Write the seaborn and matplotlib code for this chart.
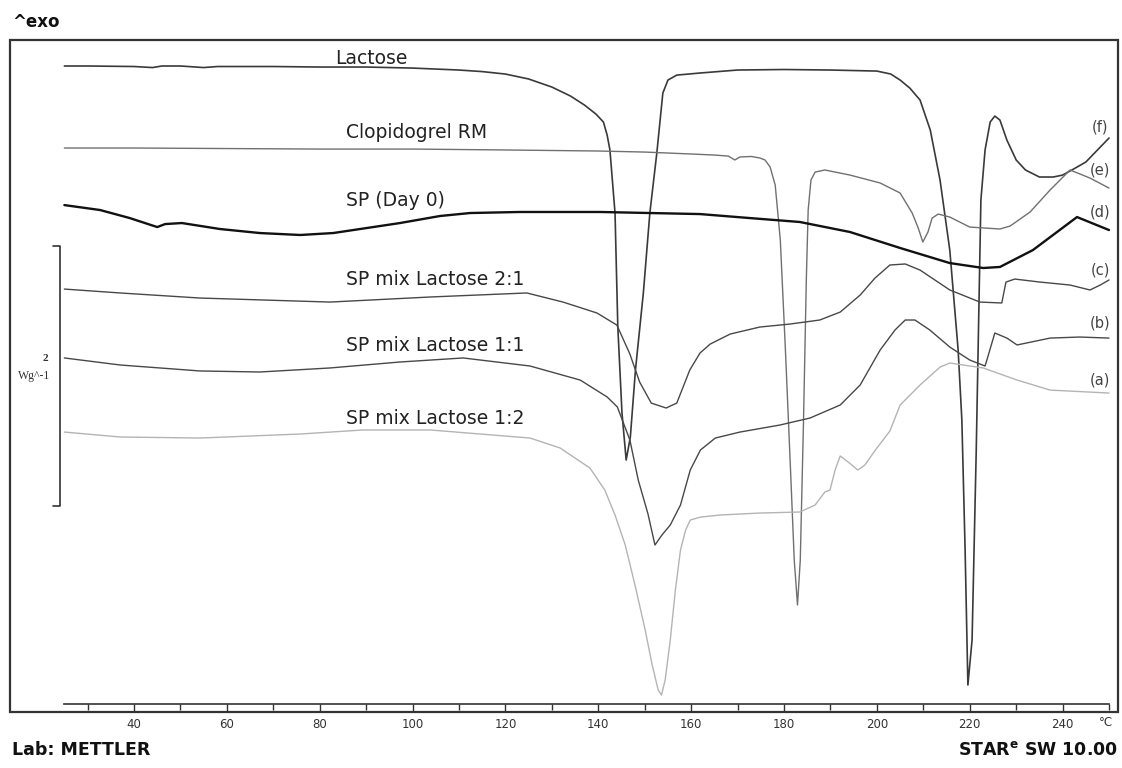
import matplotlib
matplotlib.use("Agg")
import matplotlib.pyplot as plt
import matplotlib.patches as mpatches
from matplotlib.ticker import FixedLocator
import numpy as np
import pandas as pd
import seaborn as sns

# --- DSC traces: temperature (°C) and stacked heat flow (W/g, exo up) ---
lactose_T = [25, 30, 40, 44, 46, 50, 55, 58, 70, 80, 90, 100, 110, 115, 120, 125, 130, 134,
             137, 139.5, 141.1, 141.9, 142.5, 143.6, 144.2, 145.1, 146, 146.9, 148, 149.7,
             151.1, 152.6, 153.9, 155, 156.9, 161.9, 170, 180, 190, 200, 203, 205, 207.1,
             209.3, 211.5, 213.6, 215.7, 217.5, 218.3, 219, 219.6, 220.5, 221.4, 222, 222.4,
             223.3, 224.4, 225.4, 226.5, 228, 230, 232, 235, 238, 240, 242, 245, 250]
lactose_hf = [4.908, 4.908, 4.904, 4.896, 4.908, 4.908, 4.896, 4.904, 4.904, 4.900, 4.900,
              4.892, 4.877, 4.865, 4.846, 4.808, 4.746, 4.677, 4.608, 4.538, 4.477, 4.377,
              4.262, 3.777, 2.900, 2.238, 1.877, 2.054, 2.569, 3.162, 3.777, 4.238, 4.700,
              4.800, 4.838, 4.854, 4.877, 4.881, 4.877, 4.869, 4.846, 4.800, 4.738, 4.646,
              4.415, 4.031, 3.492, 2.723, 2.185, 1.185, 0.146, 0.492, 1.954, 3.108, 3.877,
              4.262, 4.477, 4.523, 4.492, 4.338, 4.185, 4.108, 4.054, 4.054, 4.069, 4.108,
              4.169, 4.354]

clopi_T = [25, 40, 60, 80, 100, 120, 140, 150, 160, 165, 168, 169.4, 170.5, 173, 174.8, 175.9,
           177, 178.1, 179.2, 180.3, 181.4, 182.2, 182.9, 183.5, 184.2, 184.8, 185.2, 185.8,
           186.7, 188.8, 194.2, 200.7, 205, 207.6, 208.9, 209.9, 211, 211.9, 213.2, 215.7,
           220, 226.5, 228.7, 233, 237.3, 241.6, 245.9, 250]
clopi_hf = [4.277, 4.277, 4.273, 4.269, 4.269, 4.262, 4.254, 4.246, 4.231, 4.223, 4.215, 4.185,
            4.208, 4.212, 4.200, 4.185, 4.131, 3.992, 3.569, 2.723, 1.800, 1.108, 0.762, 1.108,
            2.185, 3.262, 3.800, 4.031, 4.092, 4.108, 4.069, 4.008, 3.931, 3.777, 3.662, 3.554,
            3.631, 3.738, 3.769, 3.746, 3.669, 3.654, 3.677, 3.785, 3.954, 4.108, 4.046, 3.969]

sp0_T = [25, 32.7, 39.1, 45, 46.7, 50.3, 58.5, 67.1, 75.8, 82.9, 88.7, 97.3, 105.9, 112.4,
         123.1, 140.4, 151.1, 161.9, 172.7, 183.4, 194.2, 205, 215.7, 222.9, 226.5, 233.6,
         243.1, 250]
sp0_hf = [3.838, 3.800, 3.738, 3.669, 3.692, 3.700, 3.654, 3.623, 3.608, 3.623, 3.654, 3.700,
          3.754, 3.777, 3.785, 3.785, 3.777, 3.769, 3.738, 3.708, 3.631, 3.508, 3.392, 3.354,
          3.362, 3.492, 3.746, 3.646]

mix21_T = [25, 37, 54.2, 82.2, 103.8, 124.6, 132.4, 139.7, 144, 146.8, 148.9, 151.4, 154.6,
           156.9, 159.7, 161.9, 164.1, 168.4, 174.8, 181.3, 187.7, 192.1, 196.4, 199.6, 202.8,
           206.1, 209.3, 215.7, 222.2, 226.9, 227.8, 229.7, 235.1, 241.6, 245.9, 248.1, 250]
mix21_hf = [3.192, 3.162, 3.123, 3.092, 3.131, 3.162, 3.092, 3.008, 2.915, 2.692, 2.477, 2.315,
            2.277, 2.315, 2.569, 2.700, 2.769, 2.846, 2.900, 2.923, 2.954, 3.015, 3.146, 3.277,
            3.377, 3.385, 3.338, 3.185, 3.092, 3.085, 3.246, 3.269, 3.246, 3.223, 3.185, 3.223,
            3.262]

mix11_T = [25, 37, 54.2, 67.1, 82.2, 97.3, 110.9, 125.3, 136.1, 141.9, 144.1, 146.8, 148.6,
           150.7, 152.2, 153.7, 155.5, 157.7, 159.8, 162, 165.2, 170.5, 179.1, 185.6, 192.1,
           196.4, 200.7, 203.9, 206.1, 208.2, 211.4, 215.7, 220, 223.3, 224.2, 225.4, 228,
           230.2, 237.3, 243.7, 250]
mix11_hf = [2.662, 2.608, 2.562, 2.554, 2.585, 2.631, 2.662, 2.600, 2.492, 2.362, 2.285, 2.031,
            1.723, 1.462, 1.223, 1.300, 1.377, 1.531, 1.800, 1.954, 2.046, 2.092, 2.146, 2.200,
            2.300, 2.454, 2.723, 2.877, 2.954, 2.954, 2.877, 2.746, 2.646, 2.600, 2.708, 2.854,
            2.815, 2.762, 2.815, 2.823, 2.815]

mix12_T = [25, 37, 54.2, 75.8, 89.3, 103.8, 125.3, 131.8, 138.2, 141.4, 143.6, 145.8, 147.9,
           150.1, 151.6, 152.9, 153.6, 154.4, 155.5, 156.6, 157.7, 158.8, 159.8, 162, 166.3,
           174.8, 183.4, 186.7, 188.8, 189.9, 191, 192.1, 193.8, 195.9, 197.4, 199.6, 202.8,
           205, 209.3, 213.6, 215.7, 222.9, 230.2, 237.3, 250]
mix12_hf = [2.092, 2.054, 2.046, 2.077, 2.108, 2.108, 2.046, 1.969, 1.815, 1.646, 1.454, 1.223,
            0.915, 0.569, 0.300, 0.108, 0.069, 0.185, 0.492, 0.877, 1.185, 1.338, 1.415, 1.438,
            1.454, 1.469, 1.477, 1.531, 1.631, 1.646, 1.800, 1.908, 1.862, 1.800, 1.838, 1.950,
            2.100, 2.300, 2.454, 2.592, 2.623, 2.585, 2.492, 2.415, 2.392]

sample_names = ["Lactose", "Clopidogrel RM", "SP (Day 0)",
                "SP mix Lactose 2:1", "SP mix Lactose 1:1", "SP mix Lactose 1:2"]
trace_tags = ["(f)", "(e)", "(d)", "(c)", "(b)", "(a)"]
x_major = [40, 60, 80, 100, 120, 140, 160, 180, 200, 220, 240]
x_minor = [30, 50, 70, 90, 110, 130, 150, 170, 190, 210, 230, 250]

traces = [(lactose_T, lactose_hf), (clopi_T, clopi_hf), (sp0_T, sp0_hf),
          (mix21_T, mix21_hf), (mix11_T, mix11_hf), (mix12_T, mix12_hf)]
frames = [pd.DataFrame({"T": t, "hf": h, "sample": n})
          for (t, h), n in zip(traces, sample_names)]
df = pd.concat(frames, ignore_index=True)

line_colors = ["#3a3a3a", "#707070", "#111111", "#484848", "#484848", "#b4b4b4"]
line_widths = [1.2, 1.0, 1.7, 1.0, 1.0, 1.0]

sns.set_theme(style="white")
plt.rcParams["font.family"] = ["DejaVu Sans"]

W, H = 1122, 768
fig = plt.figure(figsize=(W / 100, H / 100), dpi=100)
ax = fig.add_axes([10 / W, (H - 712) / H, 1108 / W, 672 / H])

for name, col, lw in zip(sample_names, line_colors, line_widths):
    sub = df[df["sample"] == name]
    sns.lineplot(data=sub, x="T", y="hf", color=col, linewidth=lw,
                 estimator=None, sort=False, ax=ax, legend=False)

ax.set_xlim(13.29, 251.93)
ax.set_ylim(-0.0615, 5.108)
ax.set_xlabel("")
ax.set_ylabel("")

# temperature axis drawn inside the frame
for s in ["left", "right", "top"]:
    ax.spines[s].set_visible(False)
ax.spines["bottom"].set_position(("data", 0))
ax.spines["bottom"].set_bounds(25, 250)
ax.spines["bottom"].set_color("#333333")
ax.spines["bottom"].set_linewidth(1.2)
ax.xaxis.set_major_locator(FixedLocator(x_major))
ax.xaxis.set_minor_locator(FixedLocator(x_minor))
ax.set_yticks([])
ax.tick_params(axis="x", which="major", direction="out", length=5, width=1,
               color="#333333", labelsize=8.5, labelcolor="#333333", pad=5, bottom=True)
ax.tick_params(axis="x", which="minor", direction="out", length=4, width=1,
               color="#333333", bottom=True)
ax.text(249.4, -0.14, "°C", ha="center", va="center", fontsize=8.5, color="#333333",
        clip_on=False)

# outer frame
ax.add_patch(mpatches.Rectangle((0, 0), 1, 1, transform=ax.transAxes, fill=False,
                                edgecolor="#333333", linewidth=1.6, clip_on=False))

# heat-flow scale bar: 2 W/g
bar_x, bar_lo, bar_hi = 24.06, 1.523, 3.523
ax.plot([22.5, bar_x, bar_x, 22.5], [bar_hi, bar_hi, bar_lo, bar_lo],
        color="#333333", lw=1.2, clip_on=False)
ax.text(21.6, 2.66, "2", ha="right", va="center", fontsize=8,
        family="Liberation Serif", color="#333333", fontweight="bold")
ax.text(21.9, 2.52, "Wg^-1", ha="right", va="center", fontsize=8.5,
        family="Liberation Serif", color="#333333")

# sample names
name_pos = [(83.3, 4.969), (85.7, 4.400), (85.7, 3.872), (85.7, 3.262), (85.7, 2.756), (85.7, 2.200)]
for name, (tx, ty) in zip(sample_names, name_pos):
    ax.text(tx, ty, name, ha="left", va="center", fontsize=13.5, color="#222222")

tag_y = [4.438, 4.108, 3.785, 3.338, 2.931, 2.492]
for tag, ty in zip(trace_tags, tag_y):
    ax.text(248.1, ty, tag, ha="center", va="center", fontsize=10.5, color="#444444")

fig.text(12 / W, 1 - 22 / H, "^exo", ha="left", va="center", fontsize=12,
         fontweight="bold", color="#111111")
fig.text(12 / W, 1 - 750 / H, "Lab: METTLER", ha="left", va="center", fontsize=12.5,
         fontweight="bold", color="#111111")
fig.text(1118 / W, 1 - 750 / H, r"STAR$^{\mathbf{e}}$ SW 10.00", ha="right", va="center",
         fontsize=12.5, fontweight="bold", color="#111111")

fig.savefig("out.png", dpi=100, facecolor="white")
